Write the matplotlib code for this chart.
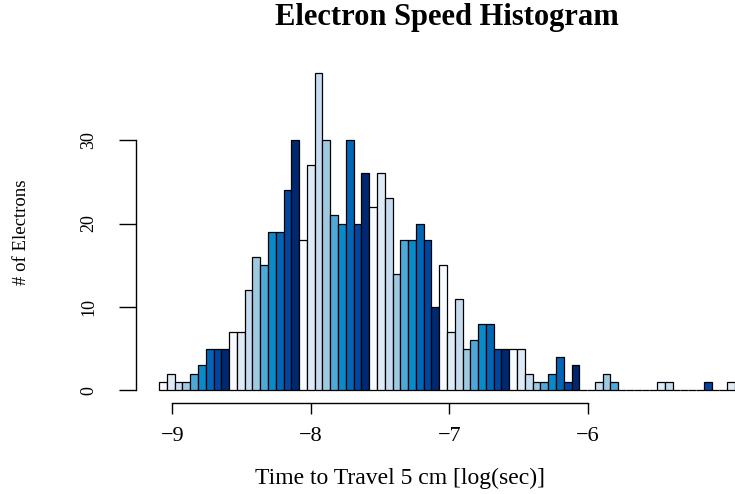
import numpy as np
import matplotlib.pyplot as plt

# histogram counts (74 bins)
counts = [1, 2, 1, 1, 2, 3, 5, 5, 5, 7, 7, 12, 16, 15, 19, 19, 24, 30, 18, 27,
          38, 30, 21, 20, 30, 20, 26, 22, 26, 23, 14, 18, 18, 20, 18, 10, 15, 7, 11, 5,
          6, 8, 8, 5, 5, 5, 5, 2, 1, 1, 2, 4, 1, 3, 0, 0, 1, 2, 1, 0,
          0, 0, 0, 0, 1, 1, 0, 0, 0, 0, 1, 0, 0, 1]
x_start = -9.097
x_end = -4.939
x_ticks = [-9, -8, -7, -6]
y_ticks = [0, 10, 20, 30]

palette = ["#F7FBFF", "#DEEBF7", "#C6DBEF", "#9ECAE1", "#4EA9D9",
           "#0A8BC9", "#0066B5", "#0046A0", "#002870"]

n = len(counts)
edges = np.linspace(x_start, x_end, n + 1)
width = edges[1] - edges[0]
colors = [palette[i % len(palette)] for i in range(n)]

plt.rcParams['font.family'] = 'Liberation Serif'

W, H = 735, 494
fig = plt.figure(figsize=(W / 100, H / 100), dpi=100)
ax = fig.add_axes([136 / W, (H - 403) / H, 622 / W, (403 - 60.7) / H])

ax.bar(edges[:-1], counts, width=width, align='edge', color=colors,
       edgecolor='black', linewidth=0.9)

pad_x = (x_end - x_start) * 0.04
ax.set_xlim(x_start - pad_x, x_end + pad_x)
ymax = max(counts)
ax.set_ylim(-ymax * 0.04, ymax * 1.04)

for s in ['top', 'right']:
    ax.spines[s].set_visible(False)
ax.spines['left'].set_bounds(y_ticks[0], y_ticks[-1])
ax.spines['bottom'].set_bounds(x_ticks[0], x_ticks[-1])
ax.spines['left'].set_linewidth(1.0)
ax.spines['bottom'].set_linewidth(1.0)

ax.set_xticks(x_ticks)
ax.set_xticklabels(['\u2212%d' % abs(t) for t in x_ticks], fontsize=16)
ax.set_yticks(y_ticks)
ax.set_yticklabels([str(t) for t in y_ticks], fontsize=13, rotation=90, va='center')
ax.tick_params(axis='x', length=8, width=1.0, pad=9)
ax.tick_params(axis='y', length=12, width=1.0, pad=16)

fig.text(400 / W, 1 - 478 / H, 'Time to Travel 5 cm [log(sec)]', fontsize=17,
         ha='center', va='center')
fig.text(22 / W, 1 - 232 / H, '# of Electrons', fontsize=13.5, rotation=90,
         ha='center', va='center')
fig.text(447 / W, 1 - 18 / H, 'Electron Speed Histogram', fontsize=22,
         fontweight='bold', ha='center', va='center')

fig.savefig('out.png', dpi=100)
